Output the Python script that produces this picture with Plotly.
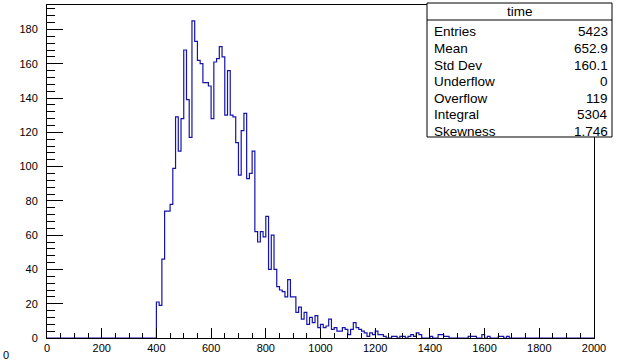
import plotly.graph_objects as go

# Histogram "time": 200 bins of width 10 over [0, 2000)
bin_width = 10
x_min, x_max = 0, 2000

counts_000_390 = [0] * 40
counts_400 = [21, 19, 46, 74, 74, 78, 99, 129, 109, 128]
counts_500 = [168, 139, 117, 185, 173, 162, 160, 149, 149, 147]
counts_600 = [128, 161, 163, 170, 164, 130, 156, 130, 129, 114]
counts_700 = [95, 121, 131, 93, 96, 109, 62, 56, 62, 59]
counts_800 = [71, 40, 60, 40, 30, 28, 27, 24, 34, 24]
counts_900 = [24, 15, 18, 11, 15, 8, 12, 9, 13, 6]
counts_1000 = [8, 6, 7, 11, 5, 6, 4, 4, 6, 5]
counts_1100 = [2, 5, 9, 6, 5, 4, 3, 1, 3, 2]
counts_1200 = [4, 2, 2, 1, 0, 0, 1, 1, 0, 1]
counts_1300 = [1, 0, 1, 2, 1, 3, 2, 0, 0, 0]
counts_1400 = [1, 0, 0, 2, 2, 1, 1, 0, 0, 0]
counts_1500 = [0, 0, 0, 0, 1, 1, 1, 0, 0, 2]
counts_1600 = [0, 1, 0, 0, 0, 1, 1, 0, 1, 0]
counts_1700_1990 = [0] * 30

underflow = 0
overflow = 119

# Summary values printed in the statistics box
stat_mean = "652.9"
stat_std = "160.1"
stat_skew = "1.746"

x_ticks = list(range(0, 2001, 200))
y_ticks = list(range(0, 181, 20))

counts = (counts_000_390 + counts_400 + counts_500 + counts_600 + counts_700
          + counts_800 + counts_900 + counts_1000 + counts_1100 + counts_1200
          + counts_1300 + counts_1400 + counts_1500 + counts_1600 + counts_1700_1990)
edges = [x_min + i * bin_width for i in range(len(counts) + 1)]

integral = sum(counts)
entries = integral + underflow + overflow
y_top = max(counts) * 1.05

# Canvas geometry (pixels)
W, H = 623, 364
ML, MR, MT, MB = 47, 29, 5, 26
PW, PH = W - ML - MR, H - MT - MB


def px(x):
    return (x - ML) / PW


def py(y):
    return (H - MB - y) / PH


fig = go.Figure()
fig.add_trace(go.Scatter(
    x=edges,
    y=counts + [counts[-1]],
    mode="lines",
    line=dict(shape="hv", color="#1414ac", width=1.2),
    hoverinfo="skip",
    showlegend=False,
))

axis_font = dict(family="Liberation Sans, Arial, sans-serif", size=11, color="black")

fig.update_xaxes(
    range=[x_min, x_max],
    tickvals=x_ticks,
    ticktext=[str(v) for v in x_ticks],
    ticks="inside", ticklen=10, tickwidth=1, tickcolor="black",
    minor=dict(dtick=50, ticks="inside", ticklen=5, tickwidth=1, tickcolor="black", showgrid=False),
    showline=True, linecolor="black", linewidth=1, mirror=True,
    showgrid=False, zeroline=False,
    tickfont=axis_font,
)
fig.update_yaxes(
    range=[0, y_top],
    tickvals=y_ticks,
    ticktext=[str(v) for v in y_ticks],
    ticks="inside", ticklen=16, tickwidth=1, tickcolor="black",
    minor=dict(dtick=4, ticks="inside", ticklen=8, tickwidth=1, tickcolor="black", showgrid=False),
    showline=True, linecolor="black", linewidth=1, mirror=True,
    showgrid=False, zeroline=False,
    tickfont=axis_font,
    ticklabelstandoff=6,
)

# Statistics box
box_l, box_r, box_t, box_h, box_b = 427, 612, 3, 20, 137
shapes = [
    dict(type="rect", xref="paper", yref="paper",
         x0=px(box_l), x1=px(box_r), y0=py(box_b), y1=py(box_t),
         line=dict(color="black", width=1), fillcolor="white", layer="above"),
    dict(type="line", xref="paper", yref="paper",
         x0=px(box_l), x1=px(box_r), y0=py(box_h), y1=py(box_h),
         line=dict(color="black", width=1), layer="above"),
]

stat_font = dict(family="Liberation Sans, Arial, sans-serif", size=13.5, color="black")
annotations = [
    dict(text="time", xref="paper", yref="paper", x=px((box_l + box_r) / 2), y=py(11.5),
         xanchor="center", yanchor="middle", showarrow=False, font=stat_font),
]
rows = [
    ("Entries", str(entries)),
    ("Mean", stat_mean),
    ("Std Dev", stat_std),
    ("Underflow", str(underflow)),
    ("Overflow", str(overflow)),
    ("Integral", str(integral)),
    ("Skewness", stat_skew),
]
for i, (name, val) in enumerate(rows):
    yc = 32 + 16.5 * i
    annotations.append(dict(text=name, xref="paper", yref="paper", x=px(432), y=py(yc),
                            xanchor="left", yanchor="middle", showarrow=False, font=stat_font))
    annotations.append(dict(text=val, xref="paper", yref="paper", x=px(610), y=py(yc),
                            xanchor="right", yanchor="middle", showarrow=False, font=stat_font))

# Stray zero in the lower-left corner of the canvas
annotations.append(dict(text="0", xref="paper", yref="paper", x=px(1), y=py(355),
                        xanchor="left", yanchor="middle", showarrow=False, font=axis_font))

fig.update_layout(
    width=W, height=H,
    margin=dict(l=ML, r=MR, t=MT, b=MB),
    paper_bgcolor="white", plot_bgcolor="white",
    shapes=shapes,
    annotations=annotations,
    showlegend=False,
)

fig.write_html("out.html")
